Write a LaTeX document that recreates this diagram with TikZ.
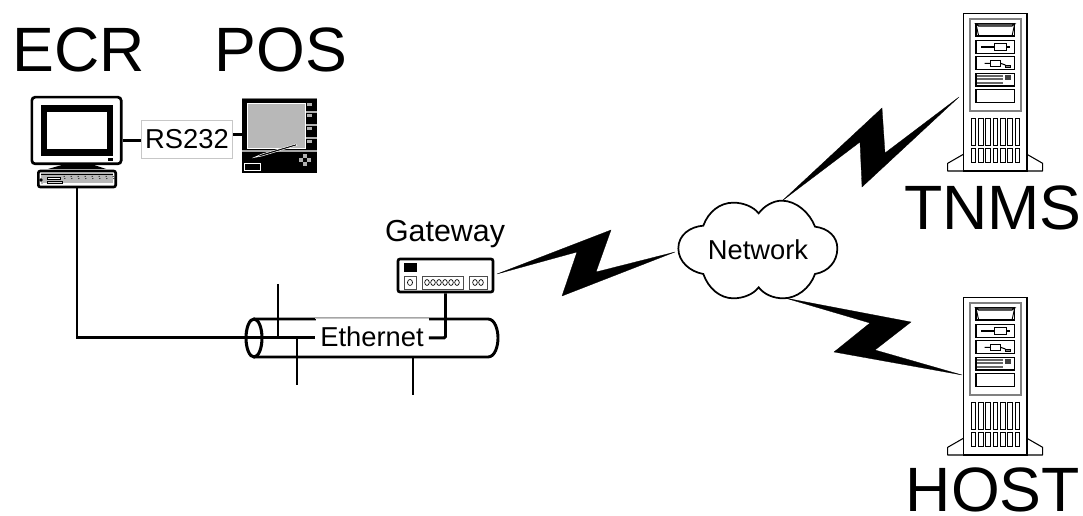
\documentclass[tikz,border=0pt]{standalone}
\usepackage{fontspec}
\setmainfont{Liberation Sans}
\definecolor{gface}{gray}{0.72}
\definecolor{gedge}{gray}{0.78}
\tikzset{
  wire/.style={line width=2.2pt,black},
  bolt/.style={fill=black,draw=black,line width=0.2pt,line join=miter},
  big/.style={font=\fontsize{47}{47}\selectfont,anchor=base,inner sep=0pt},
  label20/.style={font=\fontsize{20.5}{20.5}\selectfont,inner sep=0pt},
  box/.style={draw=black,line width=2pt,rounded corners=1.5pt,inner sep=0pt,fill=white},
  pics/server/.style={code={
    \begin{scope}[x=.25pt,y=-.25pt]
      \draw[line width=.8pt,line join=round] (190,463)--(143,490)--(143,513)--(428,513)--(428,490)--(381,463);
      \draw[line width=.9pt,fill=white] (190,40) rectangle (381,513);
      \draw[gray,line width=1.5pt] (209,58) rectangle (362,334);
      \draw[line width=.8pt] (228,72) rectangle (344,108);
      \draw[line width=.8pt,fill=gray!30] (228,72)--(344,72)--(336,78)--(236,78)--cycle;
      \draw[line width=.7pt] (228,72)--(236,108) (344,72)--(336,108);
      \draw[line width=.8pt] (228,122) rectangle (344,160);
      \draw[line width=.8pt] (244,141)--(284,141) (318,141)--(330,141);
      \draw[line width=.7pt] (284,129) rectangle (318,151);
      \draw[line width=.8pt] (228,170) rectangle (344,208);
      \draw[line width=.8pt] (254,190)--(272,190) (302,190)--(316,195);
      \draw[line width=.7pt] (272,182) rectangle (302,198);
      \draw[line width=.5pt,fill=gray] (316,195) rectangle (332,203);
      \draw[line width=.8pt] (228,220) rectangle (344,258);
      \foreach \yy in {227,238,249}{\draw[gray!80!black,line width=1.5pt] (232,\yy)--(310,\yy);}
      \fill[black!75] (316,226) rectangle (334,240);
      \draw[line width=.8pt] (228,268) rectangle (344,308);
      \foreach \xx in {213,235,257,279,301,323,345}{
        \draw[line width=.6pt] (\xx,355) rectangle (\xx+14,435);
        \draw[line width=.6pt] (\xx,445) rectangle (\xx+14,488);
      }
    \end{scope}
  }},
}
\begin{document}
\begin{tikzpicture}[x=.75pt,y=-.75pt]
\useasboundingbox (0,0) rectangle (1083,516);
% titles
\node[big] (ecr) at (78.5,72) {ECR};
\node[big] (postitle) at (281,72) {POS};
\node[big] (tnms) at (993,230) {TNMS};
\node[big] (host) at (993,512) {HOST};
% monitor
\node[box,rounded corners=2.5pt,minimum width=67pt,minimum height=50pt] (mon) at (76.5,130.5) {};
\fill[black] (41,105) rectangle (113,156);
\fill[white] (47,112) rectangle (107,149);
\fill[black] (108,158) rectangle (113,161);
\fill[black] (48,169)--(62,165)--(94,165)--(106,169)--cycle;
% keyboard / base
\node[box,minimum width=58pt,minimum height=12pt] (base) at (77,179) {};
\fill[gface] (41,173.5) rectangle (113,184.5);
\draw[black,line width=.9pt] (41,174.5)--(113,174.5);
\draw[white,line width=1pt] (43,184)--(113,184);
\fill[black] (41,180) circle (1.8);
\draw[black,line width=.6pt,fill=white] (47,177) rectangle (60,179);
\draw[black,line width=.6pt,fill=gray!30] (47,181) rectangle (62,183);
\foreach \xx in {64,71,...,113}{\draw[black,line width=.7pt,densely dotted] (\xx,176)--(\xx+1,179);}
% POS
\node[draw=none,fill=black,minimum width=56.25pt,minimum height=56.25pt,inner sep=0pt] (pos) at (279.5,135.5) {};
\draw[gray,line width=.8pt] (242,98.5)--(317,98.5);
\draw[white,line width=.4pt,fill=gface] (247,103) rectangle (305,148);
\draw[gray!70,line width=.8pt] (242,151)--(317,151);
\foreach \yy in {112,125,138}{\draw[gray!60,line width=.9pt] (306,\yy)--(317,\yy);}
\foreach \yy in {103,114,127,140}{\fill[gray!60] (307,\yy) rectangle (312,\yy+3.5);}
\draw[white,line width=.4pt,fill=black] (254,157.5)--(262,154)--(296,144)--(297,145.5)--(262,156)--cycle;
\draw[white,line width=.7pt] (244,163.5) rectangle (260,170);
\foreach \dx/\dy in {0/-4,-4/0,4/0,0/4}{\fill[gray!60] (305+\dx-1.7,160+\dy-1.7) rectangle (305+\dx+1.7,160+\dy+1.7);}
% RS232
\node[draw=gedge,line width=.7pt,fill=white,label20,minimum width=68.5pt,minimum height=29pt] (rs) at (187,139.5) {RS232};
\coordinate (rsW) at ([yshift=-1pt]rs.west);
\coordinate (rsE) at ([yshift=4pt]rs.east);
\draw[wire] (mon.east |- rsW) -- (rsW);
\draw[wire] (rsE) -- (rsE -| pos.west);
% tube
\coordinate (tubeL) at (254,338);
\draw[wire] (254,319)--(488,319) .. controls (495,319) and (498,330) .. (498,338) .. controls (498,346) and (495,357) .. (488,357) -- (254,357);
\draw[wire,line width=2.3pt] (tubeL) ellipse [x radius=8,y radius=19];
% ethernet label
\node[fill=white,label20,minimum width=84.75pt,minimum height=26pt] (eth) at (372,336.5) {Ethernet};
\draw[gedge,line width=.6pt] (eth.north west)--(eth.north east);
\coordinate (ethW) at ([yshift=-1pt]eth.west);
\coordinate (ethE) at ([yshift=-1pt]eth.east);
\coordinate (stubA) at (278,284);
\coordinate (stubB) at (297,385);
\coordinate (stubC) at (413,395);
\coordinate (tubeBot) at (413,357);
\draw[wire] (base.south) |- (ethW);
\draw[wire] (stubA) -- (stubA |- ethW);
\draw[wire] (stubB) -- (stubB |- ethW);
\draw[wire] (tubeBot) -- (stubC);
% gateway
\node[font=\fontsize{22.8}{22.8}\selectfont,inner sep=0pt] (gwt) at (445,234) {Gateway};
\node[box,minimum width=71.25pt,minimum height=24.75pt] (gw) at (445.5,275.5) {};
\fill[black] (404,263) rectangle (417,272);
\draw[black!70,line width=.6pt,fill=white] (404,276) rectangle (416,289);
\draw[black!70,line width=.6pt] (422,276) rectangle (463,289);
\draw[black!70,line width=.6pt] (469,276) rectangle (487,289);
\draw[black,line width=.5pt] (410,282.5) ellipse [x radius=2.5,y radius=3];
\foreach \xx in {427,433,439,445,451,457}{\draw[black,line width=.5pt] (\xx,282.5) ellipse [x radius=2.3,y radius=3];}
\foreach \xx in {475,481}{\draw[black,line width=.5pt] (\xx,282.5) ellipse [x radius=2.3,y radius=3];}
\draw[wire,rounded corners=1pt] (gw.south) |- (ethE);
% cloud
\begin{scope}[shift={(660,180)},x=.25pt,y=-.25pt]
\draw[line width=1.3pt,fill=white] (55,205)
 .. controls (55,165) and (90,140) .. (130,137)
 .. controls (145,95) and (180,68) .. (220,68)
 .. controls (250,68) and (280,80) .. (296,100)
 .. controls (312,78) and (340,62) .. (365,62)
 .. controls (410,62) and (450,100) .. (465,140)
 .. controls (505,145) and (532,170) .. (532,205)
 .. controls (532,245) and (505,275) .. (465,282)
 .. controls (450,325) and (410,355) .. (370,355)
 .. controls (340,355) and (312,343) .. (296,322)
 .. controls (280,343) and (250,355) .. (220,355)
 .. controls (180,355) and (145,325) .. (130,282)
 .. controls (90,275) and (55,245) .. (55,205) -- cycle;
\end{scope}
\node[label20] (net) at (758,250) {Network};
% bolts
\coordinate (gwport) at (497,274);
\coordinate (cloudL) at (675,252);
\coordinate (cloudT) at (782,201);
\coordinate (cloudB) at (785,298);
\coordinate (srvA) at (959,97);
\coordinate (srvB) at (962,375);
\filldraw[bolt] (gwport)--(611,230)--(596,272)--(cloudL)--(562,296)--(577,252)--cycle;
\filldraw[bolt] (cloudT)--(882,108)--(885,153)--(srvA)--(862,187)--(860,142)--cycle;
\filldraw[bolt] (cloudB)--(911,322)--(875,350)--(srvB)--(834,352)--(870,323)--cycle;
% servers
\pic (s1) at (900,0) {server};
\pic (s2) at (900,284) {server};
\end{tikzpicture}
\end{document}
